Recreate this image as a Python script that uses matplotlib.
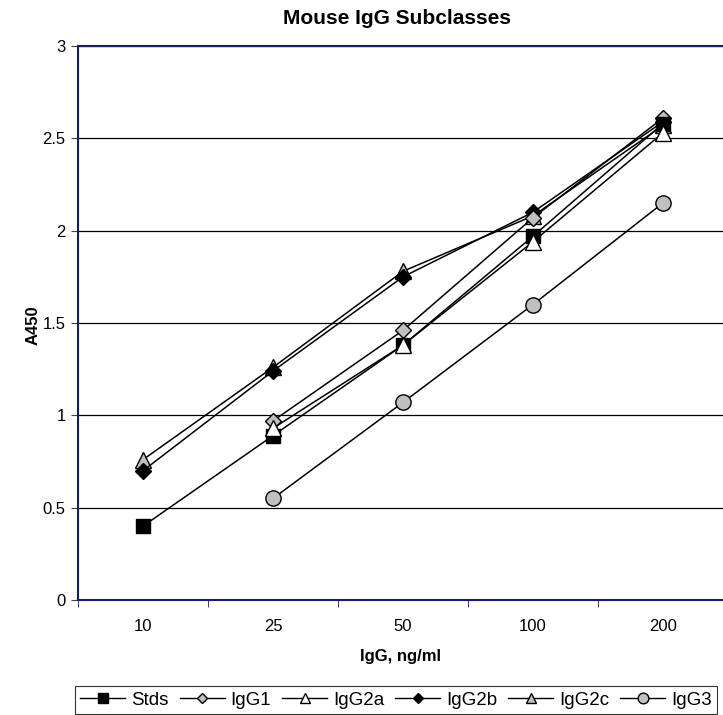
import numpy as np
import matplotlib.pyplot as plt
from matplotlib.lines import Line2D

plt.rcParams['font.family'] = ['Liberation Sans', 'DejaVu Sans']

conc = ['10', '25', '50', '100', '200']

stds = [0.40, 0.89, 1.38, 1.97, 2.58]
igg1 = [None, 0.97, 1.46, 2.07, 2.61]
igg2a = [None, 0.93, 1.38, 1.94, 2.53]
igg2b = [0.70, 1.24, 1.75, 2.10, 2.59]
igg2c = [0.76, 1.26, 1.78, 2.08, 2.57]
igg3 = [None, 0.55, 1.07, 1.60, 2.15]

fig = plt.figure(figsize=(7.23, 7.15), dpi=100)
ax = fig.add_axes([78 / 723, 1 - 600 / 715, 650 / 723, 554 / 715])

x = np.arange(len(conc))

def series(vals):
    return np.array([np.nan if a is None else a for a in vals], dtype=float)

# drawing order so markers stack like the original
ax.plot(x, series(igg2c), '-', color='black', lw=1.1, marker='^', ms=11,
        mfc='#c0c0c0', mec='black', mew=1, label='IgG2c', zorder=3)
ax.plot(x, series(igg2b), '-', color='black', lw=1.1, marker='D', ms=8,
        mfc='black', mec='black', label='IgG2b', zorder=3)
ax.plot(x, series(igg3), '-', color='black', lw=1.1, marker='o', ms=11,
        mfc='#c0c0c0', mec='black', mew=1, label='IgG3', zorder=3)
ax.plot(x, series(igg1), '-', color='black', lw=1.1, marker='D', ms=8,
        mfc='#c0c0c0', mec='black', mew=1, label='IgG1', zorder=3)
ax.plot(x, series(stds), '-', color='black', lw=1.1, marker='s', ms=10,
        mfc='black', mec='black', label='Stds', zorder=4)
ax.plot(x, series(igg2a), '-', color='black', lw=1.1, marker='^', ms=11,
        mfc='white', mec='black', mew=1, label='IgG2a', zorder=4)

ax.set_xlim(-0.5, 4.5)
ax.set_ylim(0, 3)
ax.set_yticks(np.arange(0, 3.01, 0.5))
ax.set_yticklabels(['0', '0.5', '1', '1.5', '2', '2.5', '3'])
ax.set_xticks(x)
ax.set_xticklabels(conc)
ax.set_xticks(np.arange(-0.5, 4.6, 1), minor=True)
ax.tick_params(axis='x', which='major', length=0, pad=14, labelsize=12)
ax.tick_params(axis='x', which='minor', length=5, direction='out', color='#1a1a6e')
ax.tick_params(axis='y', length=5, direction='out', labelsize=12, color='#444444', pad=4)
ax.yaxis.grid(True, color='black', lw=0.9)
ax.set_axisbelow(True)
for s in ax.spines.values():
    s.set_color('#1a1a6e')
    s.set_linewidth(1.5)

fig.text(397 / 723, 1 - 18 / 715, 'Mouse IgG Subclasses', ha='center', va='center',
         fontsize=15, fontweight='bold')
fig.text(400 / 723, 1 - 656 / 715, 'IgG, ng/ml', ha='center', va='center',
         fontsize=12, fontweight='bold')
fig.text(33 / 723, 1 - 325 / 715, 'A450', ha='center', va='center',
         fontsize=12, fontweight='bold', rotation=90)

h, l = ax.get_legend_handles_labels()
order = ['Stds', 'IgG1', 'IgG2a', 'IgG2b', 'IgG2c', 'IgG3']
hd = dict(zip(l, h))
lh = []
for name in order:
    src = hd[name]
    lh.append(Line2D([], [], color='black', lw=1, marker=src.get_marker(),
                     ms=src.get_markersize() * 0.7, mfc=src.get_mfc(), mec='black'))
leg = fig.legend(lh, order, ncol=6, loc='center', bbox_to_anchor=(396 / 723, 1 - 700 / 715),
                 frameon=True, fancybox=False, edgecolor='black', fontsize=13.5,
                 handlelength=2.4, handletextpad=0.3, columnspacing=0.6,
                 borderpad=0.3)
leg.get_frame().set_linewidth(0.8)

fig.savefig('out.png', dpi=100)
